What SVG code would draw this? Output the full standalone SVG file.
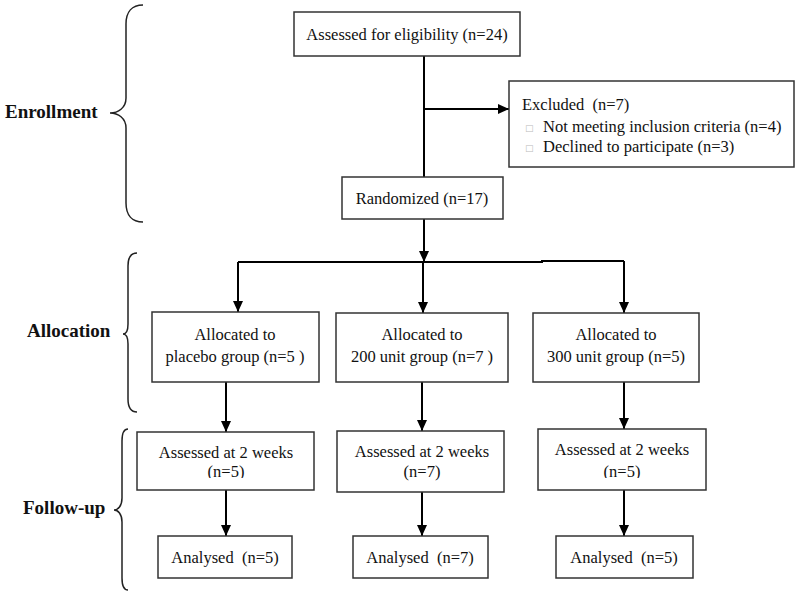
<svg xmlns="http://www.w3.org/2000/svg" width="800" height="596" viewBox="0 0 800 596">
<style>
.box{fill:#fff;stroke:#333;stroke-width:1.5}
.t{font-family:"Liberation Serif","Times New Roman",serif;font-size:16.5px;fill:#111;text-anchor:middle}
.tl{font-family:"Liberation Serif","Times New Roman",serif;font-size:16.5px;fill:#111}
.lab{font-family:"Liberation Serif","Times New Roman",serif;font-size:19px;font-weight:bold;fill:#111}
.bul{font-family:"DejaVu Sans",sans-serif;font-size:9px;fill:#bbb}
.c{fill:none;stroke:#000;stroke-width:2}
.br{fill:none;stroke:#222;stroke-width:1.5}
</style>
<defs>
<marker id="ah" markerUnits="userSpaceOnUse" markerWidth="11" markerHeight="10" refX="11" refY="5" orient="auto">
<path d="M0,0 L11,5 L0,10 z" fill="#000"/>
</marker>
<clipPath id="clipL"><rect x="137" y="432" width="177" height="46"/></clipPath>
<clipPath id="clipR"><rect x="538" y="429" width="168" height="49"/></clipPath>
</defs>

<g id="braces">
<path class="br" d="M143,5 C132,5 126,12 126,24 L126,98 C126,108 118,113 110,113 C118,113 126,118 126,128 L126,203 C126,215 132,222 143,222"/>
<text class="lab" x="5" y="118">Enrollment</text>
<path class="br" d="M137,253 C131,253 128,258 128,266 L128,324 C128,330 126,334 123,334 C126,334 128,338 128,344 L128,399 C128,407 131,412 137,412"/>
<text class="lab" x="27" y="337">Allocation</text>
<path class="br" d="M128,429 C124,429 122,433 122,441 L122,498 C122,506 118,510 114,510 C118,510 122,514 122,522 L122,578 C122,586 124,590 128,590"/>
<text class="lab" x="23" y="514">Follow-up</text>
</g>

<g id="connectors">
<line class="c" x1="424" y1="56" x2="424" y2="177"/>
<line class="c" x1="424" y1="109" x2="509" y2="109" marker-end="url(#ah)"/>
<line class="c" x1="424" y1="219" x2="424" y2="262" marker-end="url(#ah)"/>
<path class="c" d="M238,262 L542,262 L542,261 L624,261"/>
<line class="c" x1="238" y1="262" x2="238" y2="312" marker-end="url(#ah)"/>
<line class="c" x1="423" y1="262" x2="423" y2="313" marker-end="url(#ah)"/>
<line class="c" x1="624" y1="261" x2="624" y2="313" marker-end="url(#ah)"/>
<line class="c" x1="226" y1="382" x2="226" y2="432" marker-end="url(#ah)"/>
<line class="c" x1="422" y1="382" x2="422" y2="431" marker-end="url(#ah)"/>
<line class="c" x1="624" y1="382" x2="624" y2="429" marker-end="url(#ah)"/>
<line class="c" x1="226" y1="490" x2="226" y2="536" marker-end="url(#ah)"/>
<line class="c" x1="422" y1="492" x2="422" y2="536" marker-end="url(#ah)"/>
<line class="c" x1="624" y1="490" x2="624" y2="536" marker-end="url(#ah)"/>
</g>

<g id="n-eligibility">
<rect class="box" x="294" y="12" width="226" height="44"/>
<text class="t" x="407" y="40">Assessed for eligibility (n=24)</text>
</g>

<g id="n-excluded">
<rect class="box" x="509" y="81" width="285" height="86"/>
<text class="tl" x="522" y="110">Excluded &#160;(n=7)</text>
<text class="bul" x="525" y="131">□</text>
<text class="tl" x="543" y="132">Not meeting inclusion criteria (n=4)</text>
<text class="bul" x="525" y="151">□</text>
<text class="tl" x="543" y="152">Declined to participate (n=3)</text>
</g>

<g id="n-randomized">
<rect class="box" x="342" y="177" width="161" height="42"/>
<text class="t" x="422" y="204">Randomized (n=17)</text>
</g>

<g id="n-alloc-placebo">
<rect class="box" x="152" y="312" width="167" height="70"/>
<text class="t" x="235" y="340">Allocated to</text>
<text class="t" x="235" y="362">placebo group (n=5 )</text>
</g>
<g id="n-alloc-200">
<rect class="box" x="336" y="313" width="172" height="69"/>
<text class="t" x="422" y="340">Allocated to</text>
<text class="t" x="422" y="362">200 unit group (n=7 )</text>
</g>
<g id="n-alloc-300">
<rect class="box" x="533" y="313" width="166" height="69"/>
<text class="t" x="616" y="340">Allocated to</text>
<text class="t" x="616" y="362">300 unit group (n=5)</text>
</g>

<g id="n-assess-placebo">
<rect class="box" x="137" y="432" width="177" height="58"/>
<text class="t" x="226" y="458">Assessed at 2 weeks</text>
<text class="t" x="226" y="477" clip-path="url(#clipL)">(n=5)</text>
</g>
<g id="n-assess-200">
<rect class="box" x="337" y="431" width="167" height="61"/>
<text class="t" x="422" y="457">Assessed at 2 weeks</text>
<text class="t" x="422" y="477">(n=7)</text>
</g>
<g id="n-assess-300">
<rect class="box" x="538" y="429" width="168" height="61"/>
<text class="t" x="622" y="455">Assessed at 2 weeks</text>
<text class="t" x="622" y="477" clip-path="url(#clipR)">(n=5)</text>
</g>

<g id="n-analysed-placebo">
<rect class="box" x="158" y="536" width="134" height="42"/>
<text class="t" x="225" y="563">Analysed &#160;(n=5)</text>
</g>
<g id="n-analysed-200">
<rect class="box" x="353" y="536" width="135" height="42"/>
<text class="t" x="420" y="563">Analysed &#160;(n=7)</text>
</g>
<g id="n-analysed-300">
<rect class="box" x="556" y="536" width="137" height="42"/>
<text class="t" x="624" y="563">Analysed &#160;(n=5)</text>
</g>
</svg>
